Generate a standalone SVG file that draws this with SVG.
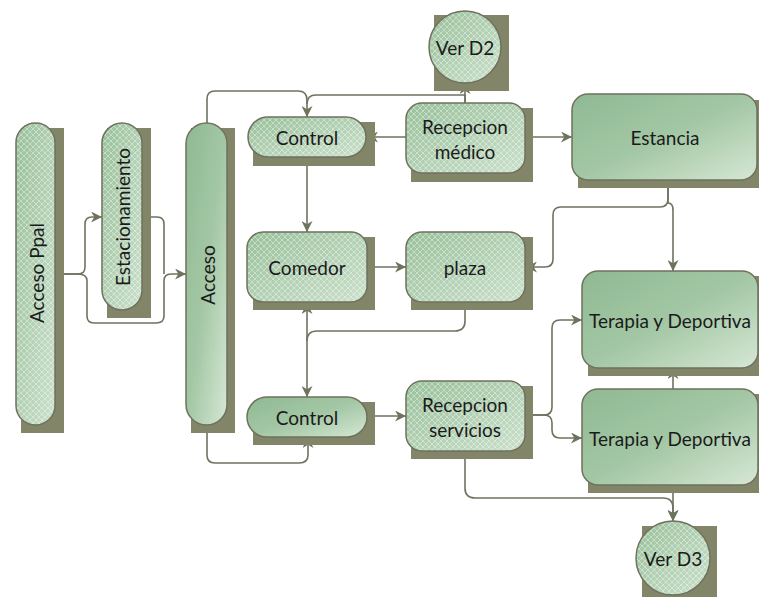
<svg xmlns="http://www.w3.org/2000/svg" width="759" height="598" viewBox="0 0 759 598">
<style>
.sh{fill:#838568}
.gf{fill:url(#grad);stroke:#6e725d;stroke-width:1.5}
.pf{fill:url(#lat);stroke:#6e725d;stroke-width:1.5}
.bg{fill:url(#grad2)}
.t{font-family:Lato,"Open Sans",sans-serif;font-size:19px;fill:#1b1b1b;text-anchor:middle;dominant-baseline:central}
.c{fill:none;stroke:#6e735e;stroke-width:1.6}
</style>
<defs>
<linearGradient id="grad" x1="0" y1="0" x2="1" y2="1">
<stop offset="0" stop-color="#8fb993"/>
<stop offset="0.5" stop-color="#a3c7a4"/>
<stop offset="1" stop-color="#d6e7d5"/>
</linearGradient>
<linearGradient id="grad2" x1="0" y1="0" x2="1" y2="1">
<stop offset="0" stop-color="#98c09a"/>
<stop offset="1" stop-color="#cbe0cb"/>
</linearGradient>
<pattern id="lat" width="6" height="6" patternUnits="userSpaceOnUse">
<path d="M0,0 L6,6 M6,0 L0,6" stroke="#ffffff" stroke-width="0.8" stroke-opacity="0.5" fill="none"/>
</pattern>
<marker id="ah" viewBox="0 0 10 10" refX="10" refY="5" markerWidth="11" markerHeight="11" markerUnits="userSpaceOnUse" orient="auto-start-reverse">
<path d="M0,0 L10,5 L0,10 L3,5 z" fill="#6e735e"/>
</marker>
</defs>

<g id="connectors">
<path class="c" marker-end="url(#ah)" d="M55,274 H78 Q85,274 85,267 V224 Q85,217 92,217 H102"/>
<path class="c" marker-end="url(#ah)" d="M55,274 H78 Q87,274 87,281 V316 Q87,323 94,323 H156 Q164,323 164,316 V281 Q164,274 171,274 H186"/>
<path class="c" d="M142,217 H157 Q164,217 164,224 V274"/>
<path class="c" marker-end="url(#ah)" d="M207,123 V99 Q207,91 215,91 H298 Q307,91 307,100 V117"/>
<path class="c" d="M465,103 V95 H316 Q307,95 307,104"/>
<path class="c" marker-end="url(#ah)" d="M465,103 V83"/>
<path class="c" marker-end="url(#ah)" d="M406,137 H367"/>
<path class="c" marker-end="url(#ah)" d="M525,137 H572"/>
<path class="c" marker-end="url(#ah)" d="M307,157 V232"/>
<path class="c" marker-end="url(#ah)" d="M367,267 H406"/>
<path class="c" marker-end="url(#ah)" d="M668,180 V199 Q668,207 660,207 H561 Q553,207 553,215 V259 Q553,267 545,267 H526"/>
<path class="c" marker-end="url(#ah)" d="M668,180 V203 Q673,203 673,210 V271"/>
<path class="c" marker-start="url(#ah)" marker-end="url(#ah)" d="M307,303 V397"/>
<path class="c" d="M465,302 V321 Q465,331 455,331 H317 Q307,331 307,341"/>
<path class="c" marker-end="url(#ah)" d="M367,416 H406"/>
<path class="c" marker-end="url(#ah)" d="M207,425 V455 Q207,463 215,463 H299 Q308,463 308,455 V437"/>
<path class="c" marker-end="url(#ah)" d="M525,415 H544 Q552,415 552,407 V328 Q552,320 560,320 H582"/>
<path class="c" marker-end="url(#ah)" d="M525,415 H544 Q552,415 552,423 V430 Q552,438 560,438 H582"/>
<path class="c" marker-end="url(#ah)" d="M673,389 V368"/>
<path class="c" marker-end="url(#ah)" d="M673,485 V521"/>
<path class="c" marker-end="url(#ah)" d="M465,451 V488 Q465,498 475,498 H663 Q673,498 673,508 V521"/>
</g>

<g id="accesoPpal">
<rect class="sh" x="21" y="128" width="43" height="305"/>
<rect class="bg" x="16" y="123" width="39" height="302" rx="19.5"/>
<rect class="pf" x="16" y="123" width="39" height="302" rx="19.5"/>
<text class="t" transform="translate(36,273) rotate(-90)">Acceso Ppal</text>
</g>
<g id="estacionamiento">
<rect class="sh" x="107" y="128" width="44" height="190"/>
<rect class="bg" x="102" y="123" width="40" height="187" rx="20"/>
<rect class="pf" x="102" y="123" width="40" height="187" rx="20"/>
<text class="t" transform="translate(122,217) rotate(-90)">Estacionamiento</text>
</g>
<g id="acceso">
<rect class="sh" x="191" y="128" width="44" height="305"/>
<rect class="gf" x="186" y="123" width="41" height="302" rx="20.5"/>
<text class="t" transform="translate(207,275) rotate(-90)">Acceso</text>
</g>
<g id="control1">
<rect class="sh" x="253" y="122" width="122" height="44"/>
<rect class="bg" x="248" y="117" width="118" height="40" rx="20"/>
<rect class="pf" x="248" y="117" width="118" height="40" rx="20"/>
<text class="t" x="307" y="137">Control</text>
</g>
<g id="recepcionMedico">
<rect class="sh" x="411" y="108" width="122" height="74"/>
<rect class="bg" x="406" y="103" width="119" height="70" rx="16"/>
<rect class="pf" x="406" y="103" width="119" height="70" rx="16"/>
<text class="t" x="465" y="126">Recepcion</text>
<text class="t" x="465" y="151">médico</text>
</g>
<g id="verD2">
<rect class="sh" x="434" y="15" width="75" height="76"/>
<circle class="bg" cx="465" cy="47" r="36"/>
<circle class="pf" cx="465" cy="47" r="36"/>
<text class="t" x="465" y="47">Ver D2</text>
</g>
<g id="estancia">
<rect class="sh" x="578" y="100" width="181" height="88"/>
<rect class="gf" x="572" y="94" width="185" height="86" rx="16"/>
<text class="t" x="665" y="137">Estancia</text>
</g>
<g id="comedor">
<rect class="sh" x="253" y="237" width="122" height="73"/>
<rect class="bg" x="247" y="232" width="120" height="70" rx="16"/>
<rect class="pf" x="247" y="232" width="120" height="70" rx="16"/>
<text class="t" x="307" y="267">Comedor</text>
</g>
<g id="plaza">
<rect class="sh" x="411" y="237" width="122" height="73"/>
<rect class="bg" x="406" y="232" width="119" height="70" rx="16"/>
<rect class="pf" x="406" y="232" width="119" height="70" rx="16"/>
<text class="t" x="465" y="267">plaza</text>
</g>
<g id="control2">
<rect class="sh" x="253" y="402" width="122" height="43"/>
<rect class="gf" x="247" y="397" width="120" height="40" rx="20"/>
<text class="t" x="307" y="417">Control</text>
</g>
<g id="recepcionServicios">
<rect class="sh" x="411" y="386" width="122" height="73"/>
<rect class="bg" x="406" y="381" width="119" height="70" rx="16"/>
<rect class="pf" x="406" y="381" width="119" height="70" rx="16"/>
<text class="t" x="465" y="404">Recepcion</text>
<text class="t" x="465" y="429">servicios</text>
</g>
<g id="terapia1">
<rect class="sh" x="588" y="276" width="171" height="100"/>
<rect class="gf" x="582" y="271" width="176" height="97" rx="16"/>
<text class="t" x="670" y="320">Terapia y Deportiva</text>
</g>
<g id="terapia2">
<rect class="sh" x="588" y="394" width="171" height="99"/>
<rect class="gf" x="582" y="389" width="176" height="96" rx="16"/>
<text class="t" x="670" y="438">Terapia y Deportiva</text>
</g>
<g id="verD3">
<rect class="sh" x="642" y="526" width="75" height="71"/>
<circle class="bg" cx="673" cy="558" r="37"/>
<circle class="pf" cx="673" cy="558" r="37"/>
<text class="t" x="673" y="558">Ver D3</text>
</g>
</svg>
